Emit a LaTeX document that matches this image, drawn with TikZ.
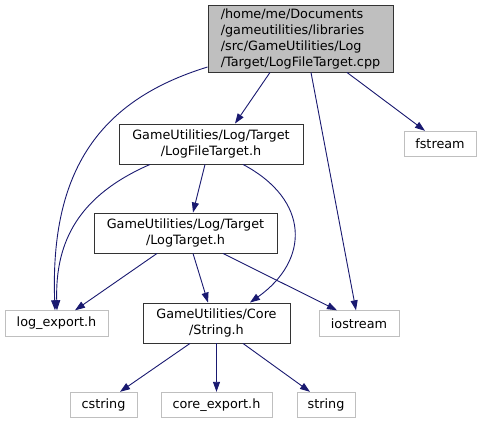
\documentclass[tikz,border=0pt]{standalone}
\usepackage{fontspec}
\setmainfont{DejaVu Sans}
\usetikzlibrary{arrows.meta}
\definecolor{edgecol}{HTML}{191970}
\definecolor{graybox}{HTML}{BFBFBF}
\tikzset{
  base/.style={draw, inner sep=0pt, font=\fontsize{12.8}{16}\selectfont, align=center, line width=0.9pt},
  mainbox/.style={base, fill=graybox, draw=black!80},
  hdrbox/.style={base, draw=black!80, minimum height=40pt},
  extbox/.style={base, draw=graybox, minimum height=25.5pt},
  dep/.style={draw=edgecol, line width=0.9pt, -{Triangle[length=10pt,width=7pt]}, edgecol}
}
\begin{document}
\begin{tikzpicture}[x=1pt,y=-1pt]
\useasboundingbox (0,0) rectangle (483,424);
\node[mainbox, minimum width=185pt, minimum height=67pt, align=left] (main) at (300.5,38.5)
  {/home/me/Documents\\/gameutilities/libraries\\/src/GameUtilities/Log\\/Target/LogFileTarget.cpp};
\node[hdrbox, minimum width=184pt] (lft) at (211,144) {GameUtilities/Log/Target\\/LogFileTarget.h};
\node[hdrbox, minimum width=183pt] (lt) at (185.5,233) {GameUtilities/Log/Target\\/LogTarget.h};
\node[hdrbox, minimum width=147pt] (str) at (216.5,323) {GameUtilities/Core\\/String.h};
\node[extbox, minimum width=103pt] (logexp) at (56.5,323.5) {log\_export.h};
\node[extbox, minimum width=80pt] (ios) at (359,323.5) {iostream};
\node[extbox, minimum width=72pt] (fst) at (440,144) {fstream};
\node[extbox, minimum width=67pt] (cstr) at (103.5,405) {cstring};
\node[extbox, minimum width=111pt] (coreexp) at (216.5,405) {core\_export.h};
\node[extbox, minimum width=58pt] (strg) at (326,405) {string};

\draw[dep] ([xshift=-30.5pt]main.south) -- ([xshift=24pt]lft.north);
\draw[dep] ([yshift=-28.5pt]main.west) .. controls (100,100) and (50,170) .. ([xshift=-1.5pt]logexp.north);
\draw[dep] ([xshift=10.5pt]main.south) -- ([xshift=-3pt]ios.north);
\draw[dep] ([xshift=46.5pt]main.south) -- ([xshift=-15pt]fst.north);
\draw[dep] ([xshift=-6pt]lft.south) -- ([xshift=7.5pt]lt.north);
\draw[dep] ([xshift=-61pt]lft.south) .. controls (80,195) and (55,240) .. ([xshift=0.5pt]logexp.north);
\draw[dep] ([xshift=32pt]lft.south) .. controls (310,200) and (310,260) .. ([xshift=33.5pt]str.north);
\draw[dep] ([xshift=-28.5pt]lt.south) -- ([xshift=18.5pt]logexp.north);
\draw[dep] ([xshift=7.5pt]lt.south) -- ([xshift=-8.5pt]str.north);
\draw[dep] ([xshift=37.5pt]lt.south) -- ([xshift=-22pt]ios.north);
\draw[dep] ([xshift=-26.5pt]str.south) -- ([xshift=16.5pt]cstr.north);
\draw[dep] (str.south) -- (coreexp.north);
\draw[dep] ([xshift=26.5pt]str.south) -- ([xshift=-16pt]strg.north);
\end{tikzpicture}
\end{document}
